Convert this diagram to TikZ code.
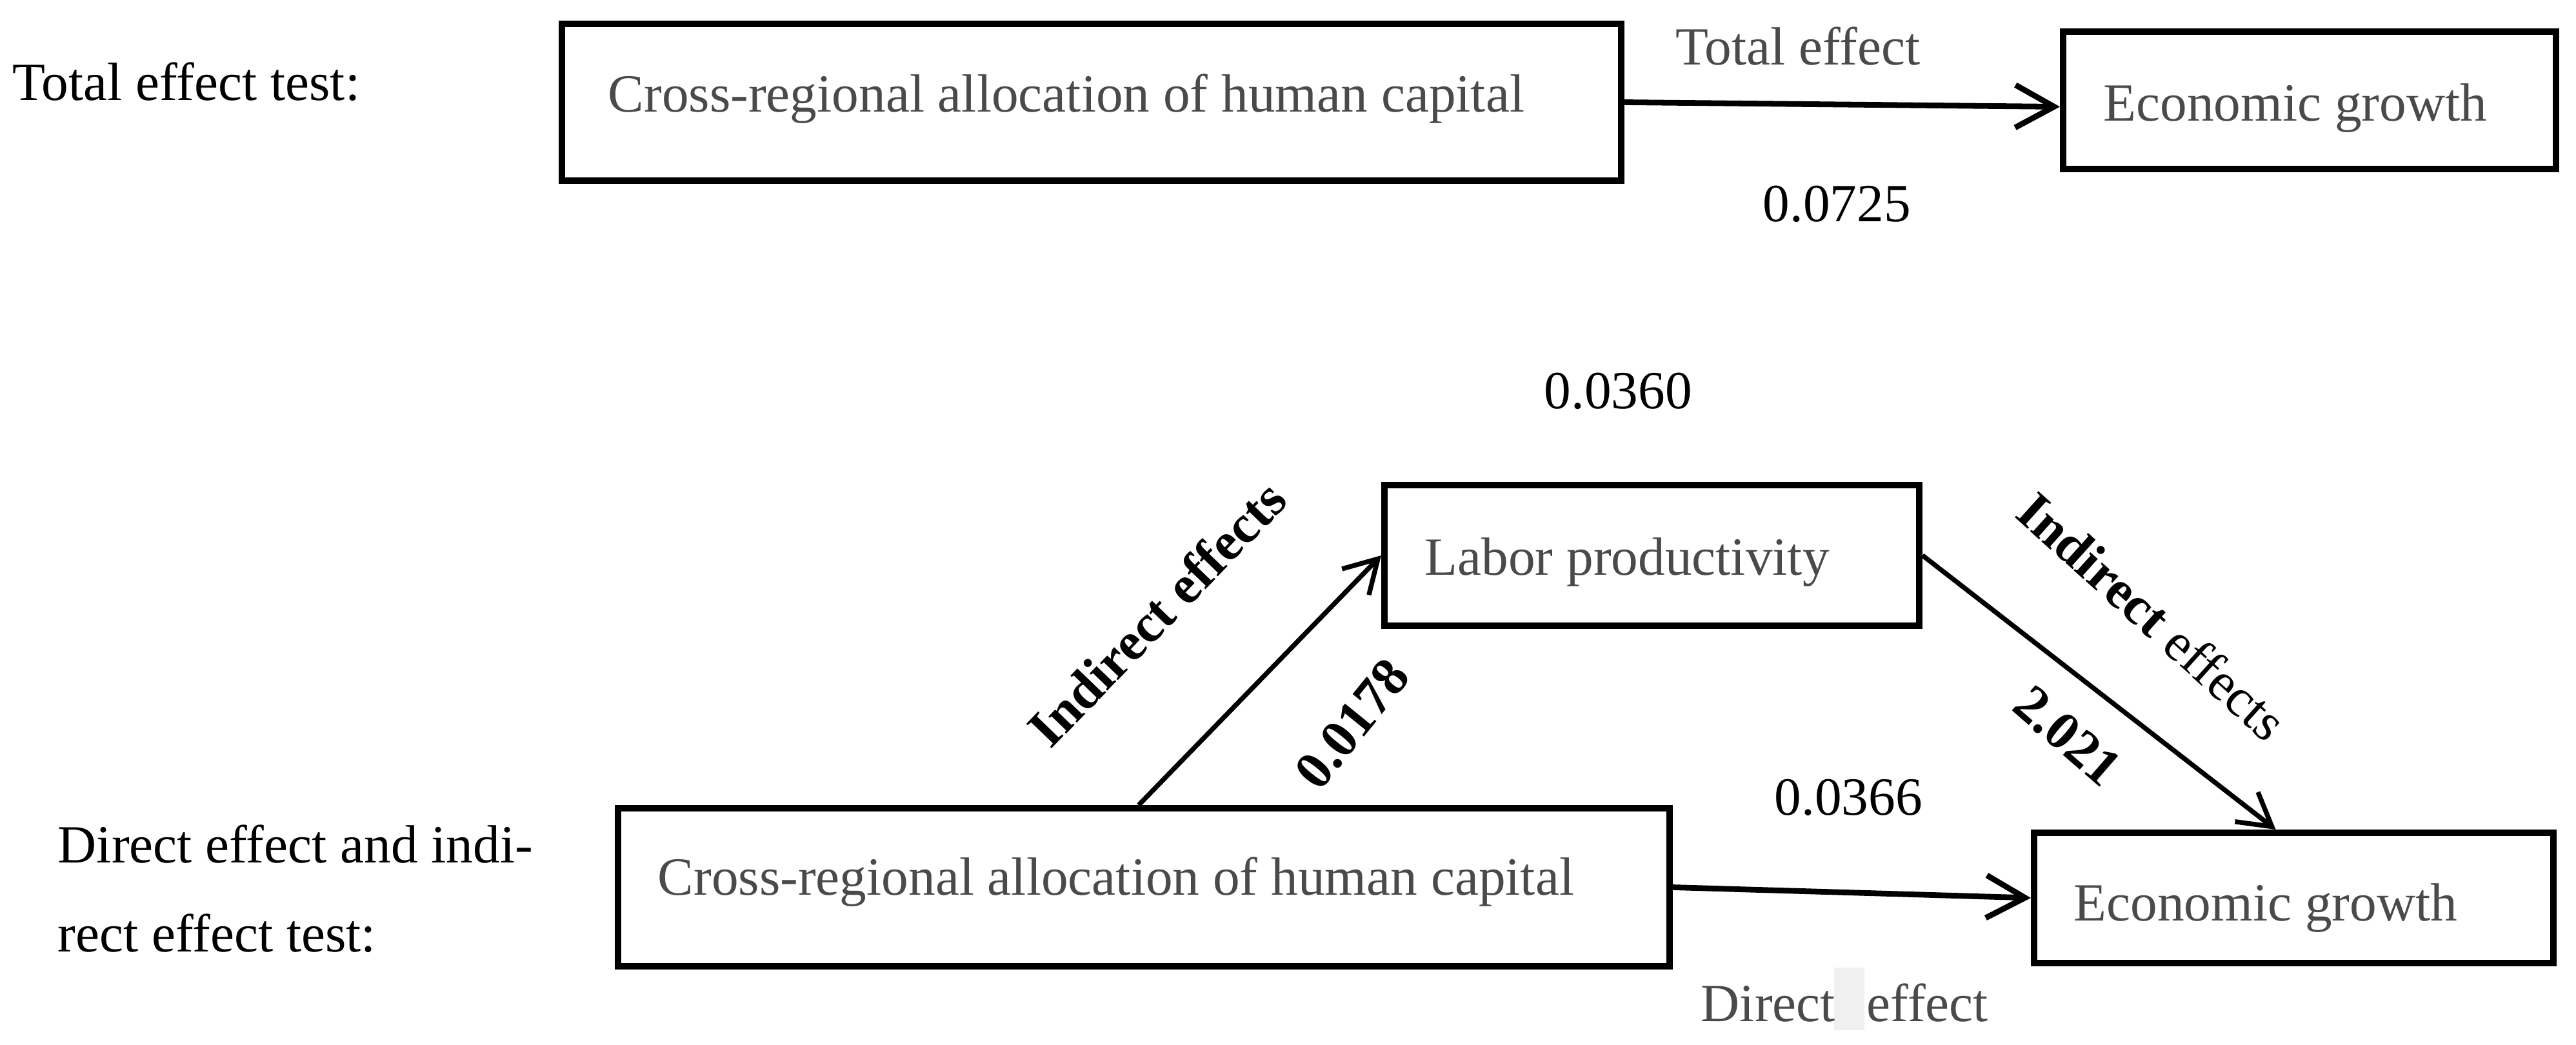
\documentclass[tikz,border=0pt]{standalone}
\usepackage{fontspec}
\setmainfont{Liberation Serif}
\usetikzlibrary{arrows.meta,calc}
\definecolor{boxtxt}{HTML}{4A4A4A}
\tikzset{
  every node/.style={font=\fontsize{23.7}{28}\selectfont, inner sep=0pt},
  box/.style={draw, line width=2.85pt, inner sep=0pt},
  boxtext/.style={text=boxtxt, anchor=base west},
  plain/.style={anchor=base west},
  rlabel/.style={anchor=center},
  harr/.style={line width=2.5pt, -{Straight Barb[length=6mm,width=6.6mm]}},
  darr/.style={line width=2.1pt, -{Straight Barb[length=5mm,width=5.8mm]}}
}
\begin{document}
\begin{tikzpicture}
\useasboundingbox (0,0) rectangle (39.93,-16.19);
% boxes
\node[box, minimum width=16.42cm, minimum height=2.43cm] (A) at (16.92,-1.585) {};
\node[box, minimum width=7.64cm, minimum height=2.13cm] (B) at (35.80,-1.555) {};
\node[box, minimum width=8.29cm, minimum height=2.18cm] (L) at (25.605,-8.61) {};
\node[box, minimum width=16.30cm, minimum height=2.45cm] (C) at (17.73,-13.755) {};
\node[box, minimum width=8.05cm, minimum height=2.02cm] (D) at (35.555,-13.92) {};
% box texts
\node[boxtext] (At) at (9.42,-1.73) {Cross-regional allocation of human capital};
\node[boxtext] (Bt) at (32.60,-1.87) {Economic growth};
\node[boxtext] (Lt) at (22.08,-8.91) {Labor productivity};
\node[boxtext] (Ct) at (10.19,-13.87) {Cross-regional allocation of human capital};
\node[boxtext] (Dt) at (32.14,-14.27) {Economic growth};
% side labels
\node[plain] (t1) at (0.19,-1.55) {Total effect test:};
\node[plain] (t2) at (0.89,-13.37) {Direct effect and indi-};
\node[plain] (t3) at (0.89,-14.75) {rect effect test:};
% edge labels
\node[boxtext] (te) at (25.97,-1.00) {Total effect};
\node[plain] (n1) at (27.32,-3.43) {0.0725};
\node[plain] (n2) at (23.93,-6.33) {0.0360};
\node[plain] (n3) at (27.50,-12.63) {0.0366};
\fill[black!6] (28.43,-15.00) rectangle (28.90,-15.97);
\node[boxtext] (de) at (26.36,-15.83) {Direct\hspace{0.28cm} effect};
\node[rlabel, rotate=46] (ie1) at (17.93,-9.51) {\textbf{Indirect effects}};
\node[rlabel, rotate=51] (v1) at (20.96,-11.22) {\textbf{0.0178}};
\node[rlabel, rotate=-41] (v2) at (32.05,-11.41) {\textbf{2.021}};
\node[rlabel, rotate=-42] (ie2) at (33.36,-9.55) {\textbf{Indirect} effects};
% connectors
\draw[harr] (A.east) -- ($(B.west)+(0,-0.1)$);
\draw[harr] (C.east) -- (D.west);
\draw[darr] ($(C.north)+(-0.08,0)$) -- (L.west);
\draw[darr] (L.east) -- ($(D.north)+(-0.28,0)$);
\end{tikzpicture}
\end{document}
